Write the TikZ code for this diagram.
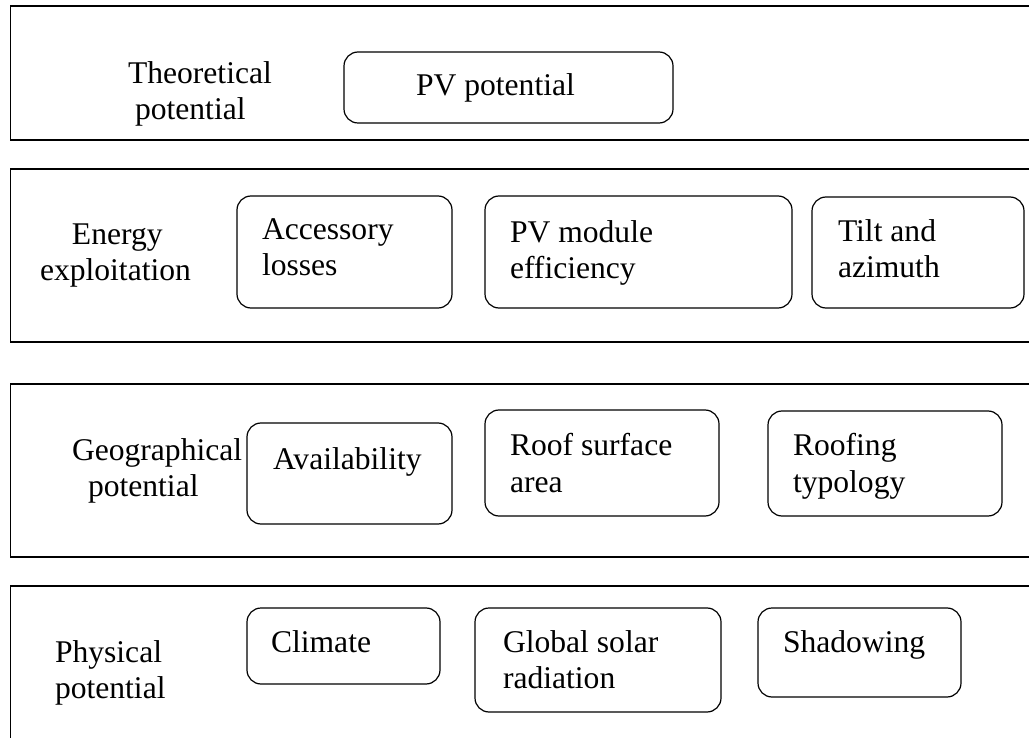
\documentclass[tikz,border=0pt]{standalone}
\usepackage{fontspec}
\setmainfont{Liberation Serif}
\begin{document}
\begin{tikzpicture}[x=1pt,y=-1pt,
  band/.style={draw, line width=1.4pt, rectangle, inner sep=0pt, outer sep=0pt, anchor=north west},
  factor/.style={draw, line width=1.2pt, rounded corners=14pt, rectangle, inner sep=0pt, outer sep=0pt, anchor=north west},
  txt/.style={inner sep=0pt, outer sep=0pt, anchor=north west, align=left, font=\fontsize{31.6}{36.5}\selectfont}]
\useasboundingbox (0,0) rectangle (1029,738);
% bands
\node[band, minimum width=1040pt, minimum height=134pt] (band1) at (10.5,6) {};
\node[band, minimum width=1040pt, minimum height=173pt] (band2) at (10.5,169) {};
\node[band, minimum width=1040pt, minimum height=173pt] (band3) at (10.5,384) {};
\node[band, minimum width=1040pt, minimum height=180pt] (band4) at (10.5,586) {};
% band labels
\node[txt] (l1) at (128,61.4) {Theoretical\\\hspace*{7pt}potential};
\node[txt] (l2) at (40,223.4) {\hspace*{32pt}Energy\\exploitation};
\node[txt] (l3) at (72,438.4) {Geographical\\\hspace*{16pt}potential};
\node[txt] (l4) at (55,640.4) {Physical\\potential};
% factor boxes
\node[factor, minimum width=329pt, minimum height=71pt] (pv) at (344,52) {};
\node[factor, minimum width=215pt, minimum height=112pt] (acc) at (237,196) {};
\node[factor, minimum width=307pt, minimum height=112pt] (mod) at (485,196) {};
\node[factor, minimum width=212pt, minimum height=111pt] (tilt) at (812,197) {};
\node[factor, minimum width=205pt, minimum height=101pt] (avail) at (247,423) {};
\node[factor, minimum width=234pt, minimum height=106pt] (roof) at (485,410) {};
\node[factor, minimum width=234pt, minimum height=105pt] (typ) at (768,411) {};
\node[factor, minimum width=193pt, minimum height=76pt] (clim) at (247,608) {};
\node[factor, minimum width=246pt, minimum height=104pt] (glob) at (475,608) {};
\node[factor, minimum width=203pt, minimum height=89pt] (shad) at (758,608) {};
% factor texts
\node[txt] (tpv) at (416,73.4) {PV potential};
\node[txt] (tacc) at (262,218.4) {Accessory\\losses};
\node[txt] (tmod) at (510,220.4) {PV module\\efficiency};
\node[txt] (ttilt) at (838,219.4) {Tilt and\\azimuth};
\node[txt] (tavail) at (273,447.4) {Availability};
\node[txt] (troof) at (510,433.4) {Roof surface\\area};
\node[txt] (ttyp) at (793,433.4) {Roofing\\typology};
\node[txt] (tclim) at (271,630.4) {Climate};
\node[txt] (tglob) at (503,630.4) {Global solar\\radiation};
\node[txt] (tshad) at (783,630.4) {Shadowing};
\end{tikzpicture}
\end{document}
